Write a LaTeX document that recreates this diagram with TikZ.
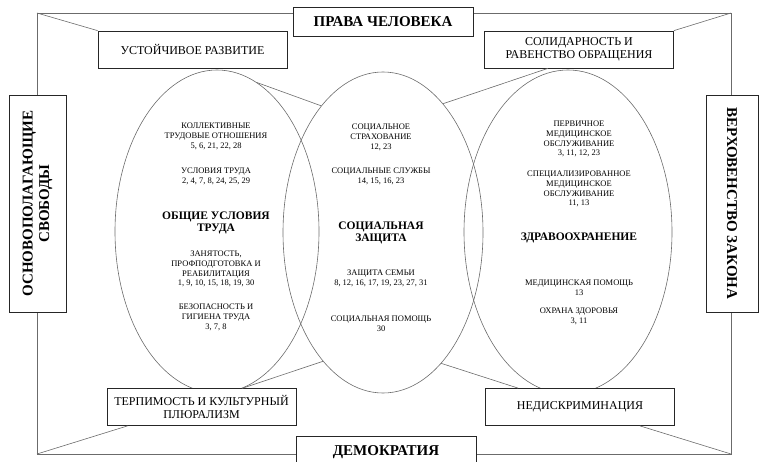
\documentclass[tikz,border=0pt]{standalone}
\usepackage{fontspec}
\setmainfont{Liberation Serif}
\usetikzlibrary{shapes.geometric}
\definecolor{linegray}{gray}{0.42}

\begin{document}
\begin{tikzpicture}[x=1pt,y=-1pt,
  sidebox/.style={draw=black!85, fill=white, line width=0.7pt, align=center, inner sep=0pt,
    font=\bfseries\fontsize{15}{16.5}\selectfont},
  valuebox/.style={draw=black!85, fill=white, line width=0.7pt, align=center, inner sep=0pt,
    minimum width=189pt, minimum height=37pt, font=\fontsize{12}{12.5}\selectfont},
  sphere/.style={ellipse, draw=linegray, line width=0.6pt, inner sep=0pt},
  topic/.style={align=center, inner sep=0pt, font=\fontsize{8.5}{9.8}\selectfont},
  heading/.style={align=center, inner sep=0pt, font=\bfseries\fontsize{11.5}{12}\selectfont},
  link/.style={draw=linegray, line width=0.6pt}]

\useasboundingbox (0,0) rectangle (759,462);

% outer frame
\coordinate (tl) at (37,13);
\coordinate (tr) at (731,13);
\coordinate (br) at (731,454);
\coordinate (bl) at (37,454);
\draw [link] (tl) -- (tr) -- (br) -- (bl) -- cycle;

% the three spheres
\node [sphere, minimum width=204pt, minimum height=323pt] (labour) at (217,231.5) {};
\node [sphere, minimum width=200pt, minimum height=321pt] (social) at (383,232.5) {};
\node [sphere, minimum width=208pt, minimum height=324pt] (health) at (568,232) {};

% principles on the frame
\node [sidebox, minimum width=180pt, minimum height=29pt] (rights) at (383,21.5) {ПРАВА ЧЕЛОВЕКА};
\node [sidebox, minimum width=180pt, minimum height=32pt] (democracy) at (386,452) {ДЕМОКРАТИЯ};
\node [sidebox, rotate=90, minimum width=217pt, minimum height=57pt] (freedoms) at (37.5,203.5) {ОСНОВОПОЛАГАЮЩИЕ\\СВОБОДЫ};
\node [sidebox, rotate=-90, minimum width=217pt, minimum height=52pt] (law) at (732,203.5) {ВЕРХОВЕНСТВО ЗАКОНА};

% values
\node [valuebox] (sustain) at (192.5,49.5) {УСТОЙЧИВОЕ РАЗВИТИЕ};
\node [valuebox] (solidarity) at (579,49.5) {СОЛИДАРНОСТЬ И\\РАВЕНСТВО ОБРАЩЕНИЯ};
\node [valuebox] (tolerance) at (201.5,407) {ТЕРПИМОСТЬ И КУЛЬТУРНЫЙ\\ПЛЮРАЛИЗМ};
\node [valuebox] (nondiscr) at (580,407) {НЕДИСКРИМИНАЦИЯ};

% links
\draw [link] (tl) -- (sustain.north west);
\draw [link] (tr) -- (solidarity.north east);
\draw [link] (bl) -- ([xshift=21pt]tolerance.south west);
\draw [link] (br) -- ([xshift=-35pt]nondiscr.south east);
\draw [link] (labour.75) -- (social.116);
\draw [link] ([xshift=-31pt]solidarity.south) -- (social.65);
\draw [link] (labour.-81) -- (social.-115);
\draw [link] (social.-66) -- ([xshift=33pt]nondiscr.north west);

% general working conditions
\node [topic] at (216,136.5) {КОЛЛЕКТИВНЫЕ\\ТРУДОВЫЕ ОТНОШЕНИЯ\\5, 6, 21, 22, 28};
\node [topic] at (216,176) {УСЛОВИЯ ТРУДА\\2, 4, 7, 8, 24, 25, 29};
\node [heading] at (216,222.5) {ОБЩИЕ УСЛОВИЯ\\ТРУДА};
\node [topic] at (216,269) {ЗАНЯТОСТЬ,\\ПРОФПОДГОТОВКА И\\РЕАБИЛИТАЦИЯ\\1, 9, 10, 15, 18, 19, 30};
\node [topic] at (216,317.5) {БЕЗОПАСНОСТЬ И\\ГИГИЕНА ТРУДА\\3, 7, 8};

% social protection
\node [topic] at (381,137.5) {СОЦИАЛЬНОЕ\\СТРАХОВАНИЕ\\12, 23};
\node [topic] at (381,176) {СОЦИАЛЬНЫЕ СЛУЖБЫ\\14, 15, 16, 23};
\node [heading] at (381,233) {СОЦИАЛЬНАЯ\\ЗАЩИТА};
\node [topic] at (381,278.5) {ЗАЩИТА СЕМЬИ\\8, 12, 16, 17, 19, 23, 27, 31};
\node [topic] at (381,323.5) {СОЦИАЛЬНАЯ ПОМОЩЬ\\30};

% health care
\node [topic] at (579,139) {ПЕРВИЧНОЕ\\МЕДИЦИНСКОЕ\\ОБСЛУЖИВАНИЕ\\3, 11, 12, 23};
\node [topic] at (579,189) {СПЕЦИАЛИЗИРОВАННОЕ\\МЕДИЦИНСКОЕ\\ОБСЛУЖИВАНИЕ\\11, 13};
\node [heading] at (579,238) {ЗДРАВООХРАНЕНИЕ};
\node [topic] at (579,287.5) {МЕДИЦИНСКАЯ ПОМОЩЬ\\13};
\node [topic] at (579,316.5) {ОХРАНА ЗДОРОВЬЯ\\3, 11};
\end{tikzpicture}
\end{document}
